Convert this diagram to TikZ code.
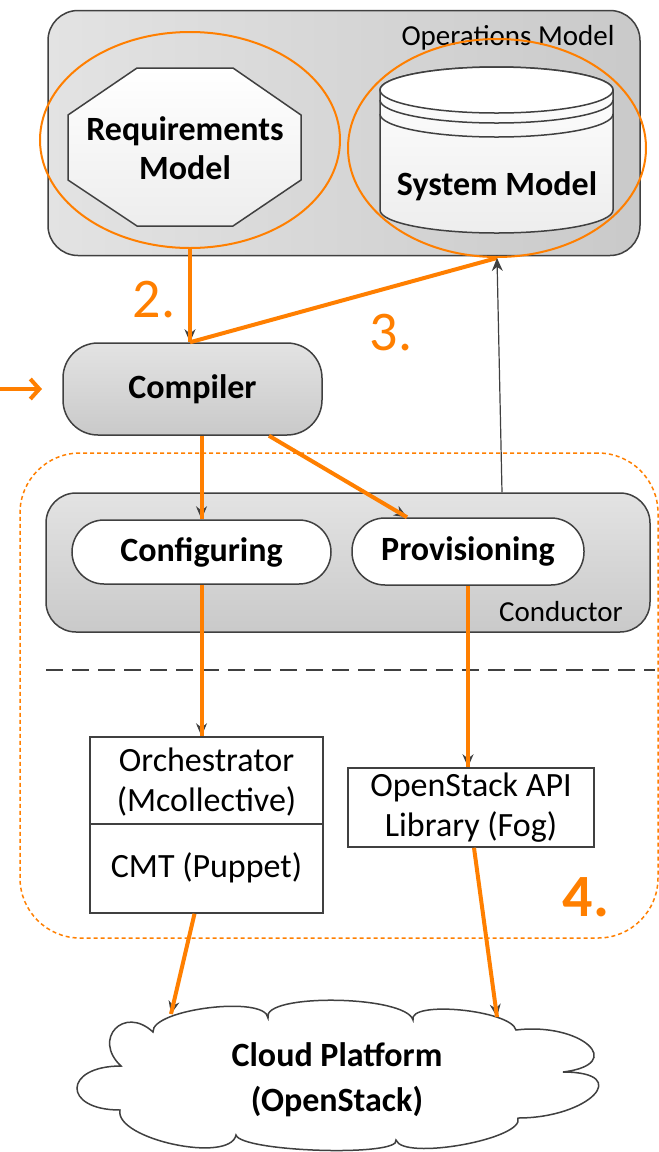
\documentclass[tikz,border=0pt]{standalone}
\usepackage{fontspec}
\setmainfont{Carlito}
\usetikzlibrary{shapes.geometric,arrows.meta,calc}
\definecolor{orng}{RGB}{255,127,0}
\definecolor{bordr}{RGB}{64,64,64}
\begin{document}
\begin{tikzpicture}[x=1pt,y=-1pt,
  graybox/.style={draw=bordr, line width=1.5pt, top color=black!11, bottom color=black!21, inner sep=0pt},
  pill/.style={draw=bordr, line width=1.5pt, fill=white, inner sep=0pt},
  plainbox/.style={draw=bordr, line width=1.5pt, fill=white, inner sep=0pt},
  boldtxt/.style={font=\fontsize{34}{39}\selectfont\bfseries, align=center, inner sep=0pt},
  regtxt/.style={font=\fontsize{34}{40}\selectfont, align=center},
  lbl/.style={font=\fontsize{29}{34}\selectfont, inner sep=0pt},
  orngline/.style={draw=orng, line width=4pt},
  darkarrow/.style={draw=bordr, line width=1.2pt, -{Stealth[length=13pt,width=11pt]}},
  hilite/.style={draw=orng, line width=2pt, ellipse, inner sep=0pt},
  num/.style={text=orng, font=\fontsize{56}{60}\selectfont, inner sep=0pt}]
\useasboundingbox (0,0) rectangle (659,1152);

% Operations model container
\node[draw=bordr, line width=1.5pt, left color=black!11, right color=black!21,
      rounded corners=30pt, minimum width=592pt, minimum height=245pt, inner sep=0pt] (ops) at (344,133) {};
\node[lbl] (opslbl) at (508,38) {Operations Model};

% Requirements octagon
\draw[draw=bordr, line width=1.5pt, top color=white, bottom color=black!7]
  (137,68) -- (233,68) -- (301,115) -- (301,180) -- (233,226) -- (137,226) -- (68,180) -- (68,115) -- cycle;
\node[boldtxt] (req) at (185,148) {Requirements\\Model};

% System model cylinder
\draw[draw=bordr, line width=1.5pt, top color=white, bottom color=black!7]
  (380,90) -- (380,210) arc[start angle=180, end angle=360, x radius=116.5pt, y radius=23pt]
  -- (613,90) arc[start angle=0, end angle=180, x radius=116.5pt, y radius=23pt] -- cycle;
\draw[draw=bordr, line width=1.5pt, fill=white] (496.5,90) ellipse[x radius=116.5pt, y radius=23pt];
\draw[draw=bordr, line width=1.5pt] (380,100) arc[start angle=180, end angle=360, x radius=116.5pt, y radius=23pt];
\draw[draw=bordr, line width=1.5pt] (380,114) arc[start angle=180, end angle=360, x radius=116.5pt, y radius=23pt];
\node[boldtxt] (sys) at (497,186) {System Model};

% highlight ellipses
\node[hilite, minimum width=300pt, minimum height=216pt] (reqell) at (190,140) {};
\node[hilite, minimum width=298pt, minimum height=218pt] (sysell) at (497,148) {};

% Compiler
\node[graybox, rounded corners=35pt, minimum width=259pt, minimum height=92pt] (comp) at (192.5,389) {};
\node[boldtxt] (comptxt) at (192.5,389) {Compiler};

% dashed zone
\node[draw=orng, line width=1.5pt, dash pattern=on 4pt off 3pt, rounded corners=60pt,
      minimum width=638pt, minimum height=485pt, inner sep=0pt] (zone) at (339,695.5) {};

% Conductor
\node[graybox, rounded corners=30pt, minimum width=604pt, minimum height=139pt] (cond) at (348,562.5) {};
\node[lbl] (condlbl) at (561,612) {Conductor};
\node[pill, rounded corners=32pt, minimum width=259pt, minimum height=64pt] (conf) at (201.5,552) {};
\node[boldtxt] (conftxt) at (201.5,552) {Configuring};
\node[pill, rounded corners=33pt, minimum width=232pt, minimum height=67pt] (prov) at (468,551.5) {};
\node[boldtxt] (provtxt) at (468,551.5) {Provisioning};

% separator
\coordinate (sepL) at (46,670);
\coordinate (sepR) at (655,670);
\draw[draw=bordr, line width=2pt, dash pattern=on 17pt off 9pt] (sepL) -- (sepR);

% lower boxes
\node[plainbox, minimum width=233pt, minimum height=87pt] (orch) at (206.5,780.5) {};
\node[regtxt] (orchtxt) at (206.5,782) {Orchestrator\\(Mcollective)};
\node[plainbox, minimum width=233pt, minimum height=89pt] (cmt) at (206.5,868.5) {};
\node[regtxt] (cmttxt) at (206.5,868) {CMT (Puppet)};
\node[plainbox, minimum width=246pt, minimum height=79pt] (api) at (471,807.5) {};
\node[regtxt] (apitxt) at (471,808) {OpenStack API\\Library (Fog)};

% Cloud (drawn outline)
\draw[draw=bordr, line width=1.5pt, fill=white]
  (120,1110) .. controls (62,1110) and (63,1066) .. (121,1066)
  .. controls (92,1039) and (124,1005) .. (153,1032)
  .. controls (151,1009) and (266,995) .. (268,1018)
  .. controls (261,993) and (406,995) .. (413,1020)
  .. controls (408,1000) and (511,1010) .. (516,1030)
  .. controls (581,1022) and (628,1064) .. (563,1072)
  .. controls (634,1072) and (589,1118) .. (518,1118)
  .. controls (525,1139) and (403,1161) .. (396,1140)
  .. controls (401,1157) and (241,1152) .. (236,1135)
  .. controls (230,1164) and (114,1139) .. (120,1110) -- cycle;
\node[boldtxt, font=\fontsize{34}{45}\selectfont\bfseries] (cloud) at (337,1080) {Cloud Platform\\(OpenStack)};

% numbers
\node[num] (n2) at (154,300) {2.};
\node[num] (n3) at (391,333) {3.};
\node[num, font=\fontsize{60}{64}\selectfont\bfseries] (n4) at (586,897) {4.};

% connectors
\coordinate (inL) at (0,389);
\coordinate (inR) at (42,389);
\draw[orngline, -{Straight Barb[length=9pt,width=20pt]}] (inL) -- (inR);

\coordinate (c2) at (reqell.south |- comp.north);
\draw[darkarrow] (reqell.south) -- (c2);
\draw[orngline] (reqell.south) -- (c2);
\draw[orngline] (c2) -- (sysell.south);

\coordinate (condtop) at ($(cond.north)+(154,0)$);
\draw[darkarrow] (condtop) -- (sysell.south);

\coordinate (cs1) at (comp.south -| conf.north);
\draw[darkarrow] (cs1) -- (conf.north);
\draw[orngline] (cs1) -- (conf.north);

\coordinate (cs2) at ($(comp.south)+(76.5,0)$);
\coordinate (pn) at ($(prov.north)+(-61,0)$);
\draw[darkarrow] (cs2) -- (pn);
\draw[orngline] (cs2) -- (pn);

\coordinate (on) at (conf.south |- orch.north);
\draw[darkarrow] (conf.south) -- (on);
\draw[orngline] (conf.south) -- (on);

\coordinate (an) at (prov.south |- api.north);
\draw[darkarrow] (prov.south) -- (an);
\draw[orngline] (prov.south) -- (an);

\coordinate (cmtout) at ($(cmt.south)+(-12,0)$);
\coordinate (cl1) at ($(cloud.center)+(-166,-66)$);
\draw[darkarrow] (cmtout) -- (cl1);
\draw[orngline] (cmtout) -- (cl1);

\coordinate (apiout) at ($(api.south)+(3,0)$);
\coordinate (cl2) at ($(cloud.center)+(160,-63)$);
\draw[darkarrow] (apiout) -- (cl2);
\draw[orngline] (apiout) -- (cl2);
\end{tikzpicture}
\end{document}
